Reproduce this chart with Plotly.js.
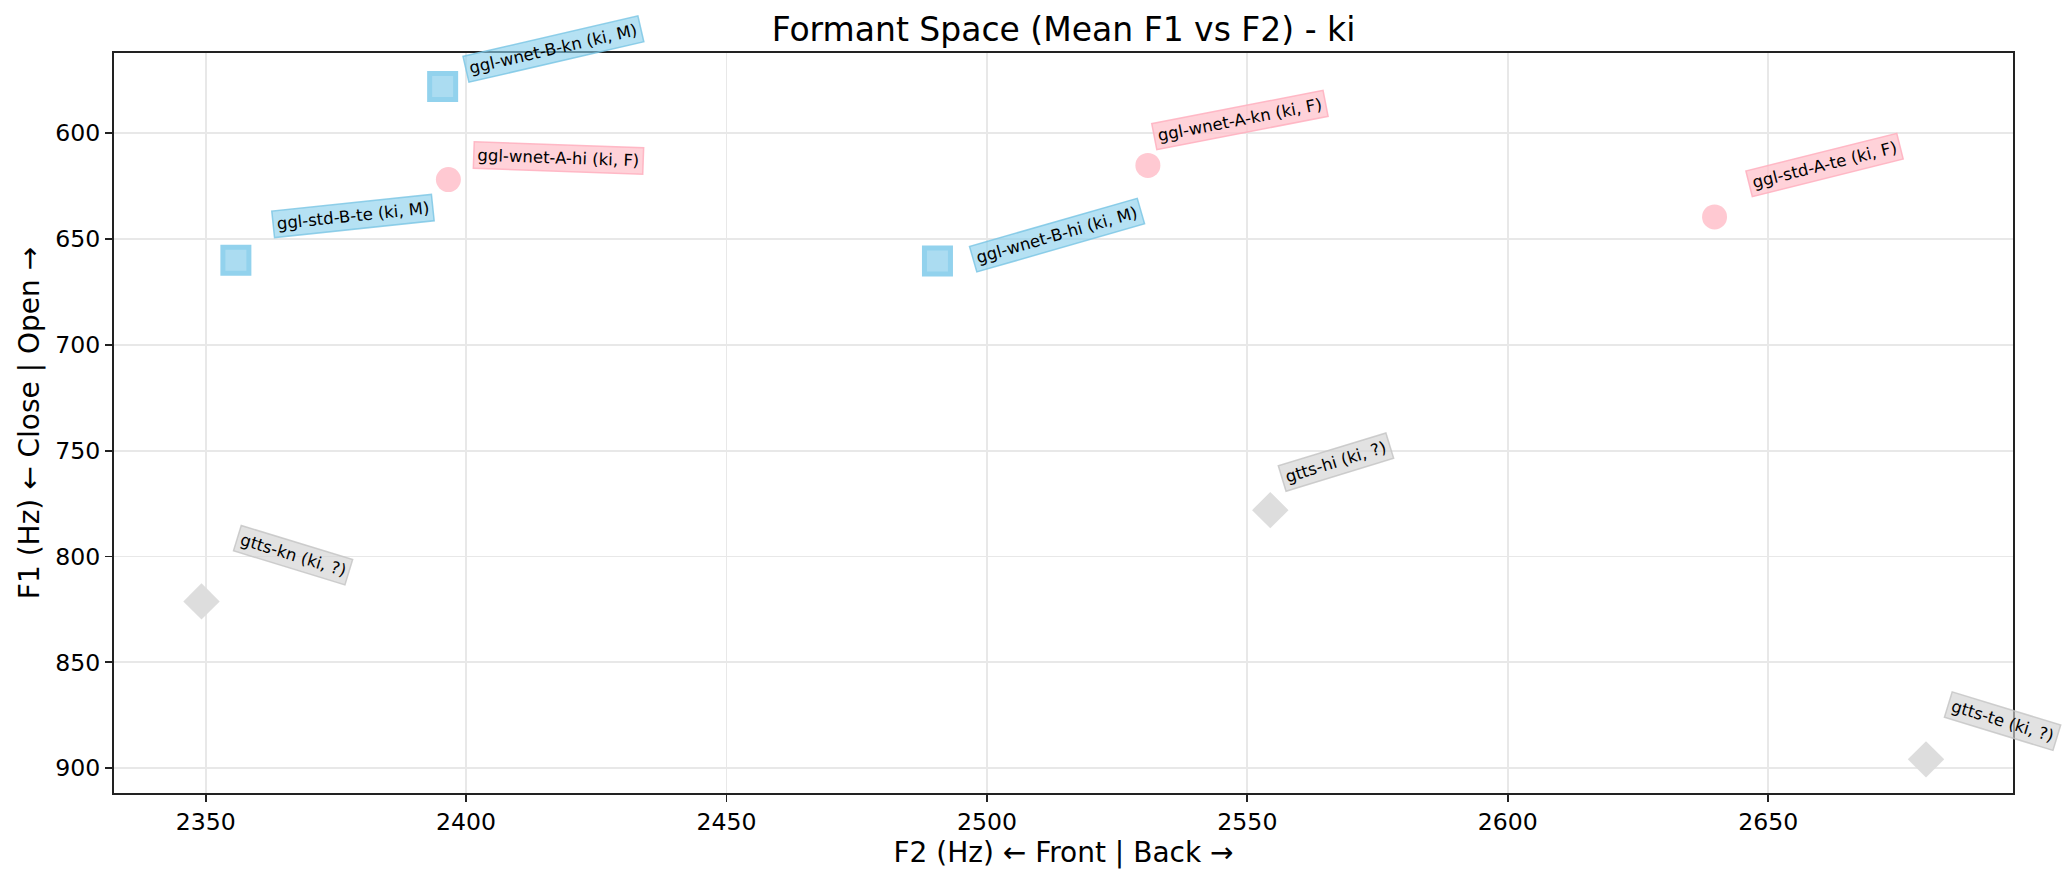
<!DOCTYPE html>
<html>
<head>
<meta charset="utf-8">
<script src="https://cdn.plot.ly/plotly-3.0.1.min.js"></script>
<style>html,body{margin:0;padding:0;background:#fff;}#chart{width:2071px;height:883px;}</style>
</head>
<body>
<div id="chart"></div>
<script>
// ---- data ----
const labels  = ["ggl-wnet-B-kn", "ggl-wnet-A-hi", "ggl-std-B-te", "ggl-wnet-B-hi", "ggl-wnet-A-kn", "ggl-std-A-te", "gtts-hi", "gtts-kn", "gtts-te"];
const genders = ["M", "F", "M", "M", "F", "F", "?", "?", "?"];
const meanF2  = [2395.5, 2396.6, 2355.8, 2490.5, 2530.9, 2639.7, 2554.4, 2349.2, 2680.3];
const meanF1  = [578.0, 622.0, 660.1, 660.4, 615.3, 639.6, 778.1, 821.2, 895.8];
const vowel = "ki";
const xTickVals = [2350, 2400, 2450, 2500, 2550, 2600, 2650];
const yTickVals = [600, 650, 700, 750, 800, 850, 900];

// ---- styling (not data) ----
const FONT = "DejaVu Sans";
const groupStyle = {
  "M": {symbol: "square",  size: 26, fill: "#abdcf1", line: "#92d2ed", lw: 5, bg: "rgba(135,206,235,0.62)", border: "rgba(120,196,228,0.8)"},
  "F": {symbol: "circle",  size: 25, fill: "#ffc9d2", line: "#ffc9d2", lw: 0, bg: "rgba(255,192,203,0.72)", border: "rgba(255,175,190,0.85)"},
  "?": {symbol: "diamond", size: 28, fill: "#dddddd", line: "#dddddd", lw: 0, bg: "rgba(211,211,211,0.65)", border: "rgba(195,195,195,0.8)"}
};
// label offsets (px, right / up) and rotation per point, in the order of `labels`
const labelDX    = [111, 110, 117, 120, 92, 110, 66, 91, 76];
const labelDY    = [37, 22, 44, 26, 45, 52, 48, 46, 38];
const labelAngle = [-13, 2, -6, -16, -11, -14, -17, 17, 17];

const traces = [];
["M", "F", "?"].forEach(g => {
  const idx = genders.map((v, i) => v === g ? i : -1).filter(i => i >= 0);
  const st = groupStyle[g];
  traces.push({
    type: "scatter", mode: "markers",
    x: idx.map(i => meanF2[i]), y: idx.map(i => meanF1[i]),
    text: idx.map(i => labels[i]),
    marker: {symbol: st.symbol, size: st.size, color: st.fill, line: {color: st.line, width: st.lw}},
    showlegend: false, hoverinfo: "text+x+y"
  });
});

const annotations = labels.map((lab, i) => {
  const st = groupStyle[genders[i]];
  return {
    x: meanF2[i], y: meanF1[i], xref: "x", yref: "y",
    text: lab + " (" + vowel + ", " + genders[i] + ")",
    showarrow: false, xanchor: "center", yanchor: "middle",
    xshift: labelDX[i], yshift: labelDY[i], textangle: labelAngle[i],
    font: {family: FONT, size: 16.5, color: "#000"},
    bgcolor: st.bg, bordercolor: st.border, borderwidth: 1.5, borderpad: 3
  };
});

const axisCommon = {
  showline: true, linecolor: "#222", linewidth: 1.9, mirror: true,
  ticks: "outside", ticklen: 7, tickwidth: 1.9, tickcolor: "#222",
  showgrid: true, gridcolor: "#e8e8e8", gridwidth: 1.9,
  zeroline: false, tickfont: {family: FONT, size: 23.6, color: "#000"}
};

const layout = {
  width: 2071, height: 883,
  margin: {l: 114, r: 58, t: 53, b: 90},
  paper_bgcolor: "#fff", plot_bgcolor: "#fff",
  font: {family: FONT, color: "#000"},
  title: {text: "Formant Space (Mean F1 vs F2) - " + vowel, font: {family: FONT, size: 33, color: "#000"},
          x: 0.5, xref: "paper", xanchor: "center", y: 0.967, yref: "container", yanchor: "middle"},
  xaxis: Object.assign({}, axisCommon, {
    range: [2332.4, 2697], tickvals: xTickVals,
    title: {text: "F2 (Hz) \u2190 Front | Back \u2192", font: {family: FONT, size: 28, color: "#000"}, standoff: 6}
  }),
  yaxis: Object.assign({}, axisCommon, {
    range: [911.7, 562.2], tickvals: yTickVals,
    title: {text: "F1 (Hz) \u2190 Close | Open \u2192", font: {family: FONT, size: 28, color: "#000"}, standoff: 7}
  }),
  annotations: annotations
};

Plotly.newPlot("chart", traces, layout, {displayModeBar: false, staticPlot: true});
</script>
</body>
</html>
